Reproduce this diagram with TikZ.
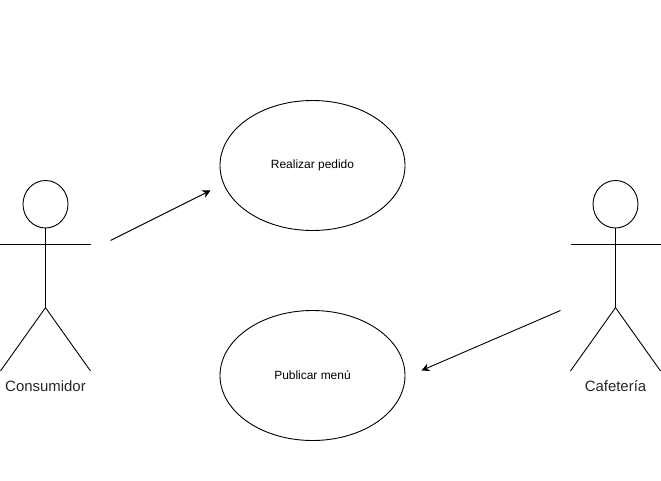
\documentclass[tikz,border=0pt]{standalone}
\usepackage{fontspec}
\setmainfont{Liberation Sans}
\usetikzlibrary{positioning, calc, arrows.meta, shapes.geometric}
\tikzset{
    casenode/.style={
        ellipse, draw, minimum width=185bp, minimum height=130bp, inner sep=0pt, font=\fontsize{12}{14}\selectfont
    },
    headnode/.style={
        ellipse, draw, minimum width=45bp, minimum height=47.5bp, inner sep=0pt
    },
    actorlabel/.style={
        inner sep=0pt, font=\fontsize{15}{18}\selectfont, text=black!85
    },
    ptr/.style={
        -{Stealth[length=8bp,width=8bp]}, line width=0.9bp
    }
}
\newcommand{\drawactor}[1]{
    \draw (#1.south) -- ++(0,-79.2bp) coordinate (#1hip);
    \draw ($(#1.south)+(-45bp,-15.8bp)$) coordinate (#1arml) -- ++(90bp,0) coordinate (#1armr);
    \draw (#1hip) -- ++(-45bp,-63.3bp) coordinate (#1footl);
    \draw (#1hip) -- ++(45bp,-63.3bp) coordinate (#1footr);
}
\begin{document}
\begin{tikzpicture}[x=1bp, y=-1bp, line width=0.9bp]
    \useasboundingbox (0,0) rectangle (661,481);
    % casos de uso
    \node[casenode] (pedido) at (312.5,165.5) {Realizar pedido};
    \node[casenode] (menu) at (312.5,375.5) {Publicar menú};
    % actores
    \node[headnode] (consumidor) at (45.5,204.25) {};
    \node[headnode] (cafeteria) at (615.5,204.25) {};
    \drawactor{consumidor}
    \drawactor{cafeteria}
    \node[actorlabel] (lblconsumidor) at (45.5,386) {Consumidor};
    \node[actorlabel] (lblcafeteria) at (615.5,386) {Cafetería};
    % flechas
    \coordinate (from1) at (110.5,240.5);
    \coordinate (to1) at (210.5,190.5);
    \coordinate (from2) at (560.5,310.5);
    \coordinate (to2) at (421.5,370.5);
    \draw[ptr] (from1) -- (to1);
    \draw[ptr] (from2) -- (to2);
\end{tikzpicture}
\end{document}
